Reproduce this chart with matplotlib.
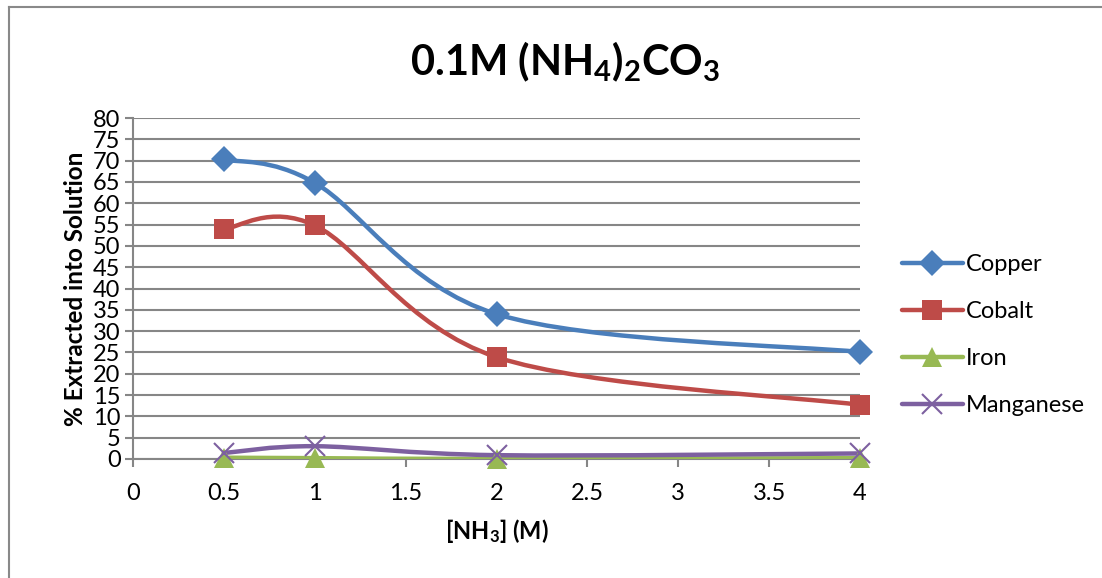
import matplotlib.pyplot as plt
from matplotlib.path import Path
from matplotlib.patches import PathPatch
from matplotlib.lines import Line2D

plt.rcParams['font.family'] = ['Lato', 'DejaVu Sans']
plt.rcParams['mathtext.fontset'] = 'custom'
plt.rcParams['mathtext.rm'] = 'Lato:bold'
plt.rcParams['mathtext.default'] = 'rm'

# data
nh3 = [0.5, 1, 2, 4]
copper = [70.3, 64.8, 34.0, 25.1]
cobalt = [54.0, 54.8, 23.9, 12.7]
iron = [0.3, 0.2, 0.0, 0.2]
manganese = [1.4, 3.0, 0.9, 1.3]

series = [
    ('Copper', copper, '#4A7EBB', 'D', 13),
    ('Cobalt', cobalt, '#BE4B48', 's', 14),
    ('Iron', iron, '#98B954', '^', 14),
    ('Manganese', manganese, '#7D60A0', 'x', 14),
]


# Excel-style smoothed line: cubic bezier through the points
def smooth_path(xs, ys):
    pts = list(zip(xs, ys))
    n = len(pts)
    verts = [pts[0]]
    codes = [Path.MOVETO]
    for i in range(n - 1):
        p0 = pts[i - 1] if i > 0 else pts[i]
        p1 = pts[i]
        p2 = pts[i + 1]
        p3 = pts[i + 2] if i + 2 < n else pts[i + 1]
        c1 = (p1[0] + (p2[0] - p0[0]) / 6, p1[1] + (p2[1] - p0[1]) / 6)
        c2 = (p2[0] - (p3[0] - p1[0]) / 6, p2[1] - (p3[1] - p1[1]) / 6)
        verts += [c1, c2, p2]
        codes += [Path.CURVE4] * 3
    return Path(verts, codes)


fig = plt.figure(figsize=(11.02, 5.78), dpi=100)
ax = fig.add_axes([0.1207, 0.2059, 0.6597, 0.5899])

handles = []
for name, vals, col, mk, ms in series:
    patch = PathPatch(smooth_path(nh3, vals), facecolor='none', edgecolor=col,
                      lw=3.2, capstyle='round', joinstyle='round', zorder=3)
    ax.add_patch(patch)
    mew = 1.5 if mk == 'x' else 0
    ax.plot(nh3, vals, linestyle='none', marker=mk, markersize=ms, color=col,
            markeredgewidth=mew, markeredgecolor=col, zorder=4, clip_on=False)
    handles.append(Line2D([], [], color=col, lw=3.2, marker=mk, markersize=ms,
                          markeredgewidth=mew, markeredgecolor=col,
                          solid_capstyle='round'))

ax.set_xlim(0, 4)
ax.set_ylim(0, 80)
ax.set_xticks([0, 0.5, 1, 1.5, 2, 2.5, 3, 3.5, 4])
ax.set_xticklabels(['0', '0.5', '1', '1.5', '2', '2.5', '3', '3.5', '4'])
ax.set_yticks(range(0, 81, 5))
ax.tick_params(axis='both', labelsize=17, color='#868686', length=6, width=1.5)
ax.tick_params(axis='x', pad=11)
ax.tick_params(axis='y', pad=3)
ax.grid(axis='y', color='#868686', lw=1.5)
ax.set_axisbelow(True)
for s in ['top', 'right']:
    ax.spines[s].set_visible(False)
for s in ['left', 'bottom']:
    ax.spines[s].set_color('#868686')
    ax.spines[s].set_linewidth(1.5)

ax.set_ylabel('% Extracted into Solution', fontsize=17.5, fontweight='bold', labelpad=4)
ax.set_xlabel('[NH$_3$] (M)', fontsize=17, fontweight='bold', labelpad=10)
fig.text(0.513, 0.893, '0.1M (NH$_4$)$_2$CO$_3$', fontsize=30, fontweight='bold',
         ha='center', va='center')

fig.legend(handles, [s[0] for s in series], loc='center left',
           bbox_to_anchor=(0.799, 0.42), frameon=False, fontsize=17,
           handlelength=2.6, handletextpad=0.1, labelspacing=1.1)

# chart border
fig.add_artist(Line2D([8.5 / 1102, 1], [1 - 6.5 / 578] * 2, color='#898989', lw=1.5))
fig.add_artist(Line2D([8.5 / 1102] * 2, [0, 1 - 6.5 / 578], color='#898989', lw=1.5))

fig.savefig('out.png', dpi=100)
